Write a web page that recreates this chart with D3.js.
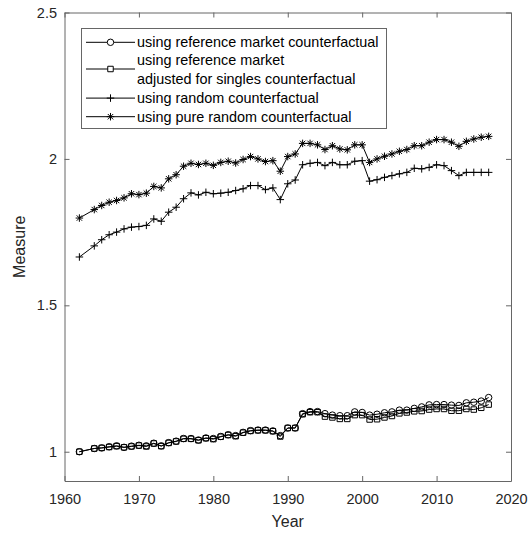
<!DOCTYPE html>
<html>
<head>
<meta charset="utf-8">
<script src="https://cdn.jsdelivr.net/npm/d3@7"></script>
<style>
  html, body { margin: 0; padding: 0; background: #fff; }
  svg { display: block; font-family: "Liberation Sans", Arial, sans-serif; }
</style>
</head>
<body>
<div id="chart"></div>
<script>
// Datos
const years = [1962, 1964, 1965, 1966, 1967, 1968, 1969, 1970, 1971, 1972, 1973, 1974, 1975, 1976, 1977, 1978, 1979, 1980,
  1981, 1982, 1983, 1984, 1985, 1986, 1987, 1988, 1989, 1990, 1991, 1992, 1993, 1994, 1995, 1996, 1997, 1998, 1999, 2000,
  2001, 2002, 2003, 2004, 2005, 2006, 2007, 2008, 2009, 2010, 2011, 2012, 2013, 2014, 2015, 2016, 2017];

const refMarket = [1.000, 1.011, 1.013, 1.017, 1.020, 1.015, 1.019, 1.022, 1.020, 1.029, 1.020, 1.031, 1.036, 1.045, 1.045, 1.040, 1.047, 1.045,
  1.052, 1.058, 1.055, 1.066, 1.072, 1.074, 1.074, 1.071, 1.055, 1.081, 1.081, 1.130, 1.137, 1.137, 1.130, 1.125, 1.123, 1.123, 1.136, 1.134,
  1.125, 1.128, 1.133, 1.136, 1.142, 1.142, 1.148, 1.153, 1.160, 1.161, 1.161, 1.159, 1.158, 1.167, 1.169, 1.173, 1.185];

const refSingles = [1.000, 1.011, 1.013, 1.016, 1.019, 1.015, 1.018, 1.021, 1.018, 1.028, 1.019, 1.030, 1.035, 1.044, 1.044, 1.039, 1.046, 1.043,
  1.051, 1.057, 1.053, 1.065, 1.071, 1.073, 1.073, 1.070, 1.052, 1.081, 1.081, 1.128, 1.135, 1.135, 1.120, 1.117, 1.112, 1.112, 1.125, 1.125,
  1.110, 1.111, 1.117, 1.122, 1.131, 1.134, 1.138, 1.139, 1.144, 1.146, 1.146, 1.140, 1.140, 1.146, 1.144, 1.150, 1.161];

const randomCf = [1.665, 1.703, 1.724, 1.741, 1.750, 1.761, 1.767, 1.769, 1.773, 1.795, 1.787, 1.818, 1.835, 1.864, 1.884, 1.877, 1.886, 1.881,
  1.883, 1.886, 1.892, 1.898, 1.909, 1.909, 1.895, 1.901, 1.861, 1.915, 1.928, 1.980, 1.985, 1.988, 1.977, 1.988, 1.980, 1.980, 1.992, 1.994,
  1.924, 1.929, 1.937, 1.943, 1.949, 1.954, 1.968, 1.966, 1.971, 1.980, 1.977, 1.960, 1.943, 1.954, 1.954, 1.954, 1.954];

const pureRandomCf = [1.798, 1.827, 1.841, 1.852, 1.858, 1.867, 1.881, 1.878, 1.883, 1.906, 1.901, 1.932, 1.946, 1.975, 1.985, 1.981, 1.985, 1.978,
  1.988, 1.992, 1.986, 1.998, 2.008, 2.000, 1.991, 1.994, 1.958, 2.008, 2.017, 2.053, 2.053, 2.048, 2.032, 2.045, 2.034, 2.031, 2.048, 2.048,
  1.988, 2.000, 2.009, 2.017, 2.026, 2.032, 2.045, 2.045, 2.057, 2.066, 2.066, 2.057, 2.043, 2.060, 2.068, 2.074, 2.077];

const xTicks = [1960, 1970, 1980, 1990, 2000, 2010, 2020];
const yTicks = [1, 1.5, 2, 2.5];
const legendLabels = [
  ['using reference market counterfactual'],
  ['using reference market', 'adjusted for singles counterfactual'],
  ['using random counterfactual'],
  ['using pure random counterfactual']
];

// Marcadores estilo MATLAB
const plusSymbol = {
  draw(ctx, size) {
    const r = Math.sqrt(size) / 2;
    ctx.moveTo(-r, 0); ctx.lineTo(r, 0);
    ctx.moveTo(0, -r); ctx.lineTo(0, r);
  }
};
const starSymbol = {
  draw(ctx, size) {
    const r = Math.sqrt(size) / 2;
    const d = r * 0.72;
    ctx.moveTo(-r, 0); ctx.lineTo(r, 0);
    ctx.moveTo(0, -r); ctx.lineTo(0, r);
    ctx.moveTo(-d, -d); ctx.lineTo(d, d);
    ctx.moveTo(-d, d); ctx.lineTo(d, -d);
  }
};
const circleSymbol = {
  draw(ctx, size) {
    const r = Math.sqrt(size) / 2;
    ctx.moveTo(r, 0);
    ctx.arc(0, 0, r, 0, 2 * Math.PI);
  }
};
const squareSymbol = {
  draw(ctx, size) {
    const r = Math.sqrt(size) / 2;
    ctx.rect(-r, -r, 2 * r, 2 * r);
  }
};

const series = [
  { values: refMarket, symbol: circleSymbol, size: 42 },
  { values: refSingles, symbol: squareSymbol, size: 30 },
  { values: randomCf, symbol: plusSymbol, size: 56 },
  { values: pureRandomCf, symbol: starSymbol, size: 56 }
];

const drawChart = () => {
  const width = 530;
  const height = 536;
  const margin = { top: 12.5, right: 19, bottom: 55, left: 64.5 };
  const axisColor = '#666';

  const svg = d3.select('#chart')
    .append('svg')
    .attr('width', width)
    .attr('height', height);

  const x = d3.scaleLinear()
    .domain([1960, 2020])
    .range([margin.left, width - margin.right]);

  const y = d3.scaleLinear()
    .domain([0.9, 2.5])
    .range([height - margin.bottom, margin.top]);

  const plotW = x(2020) - x(1960);
  const plotH = y(0.9) - y(2.5);

  // Ejes (ticks hacia dentro, caja completa)
  const xAxis = d3.axisBottom(x).tickValues(xTicks).tickFormat(d3.format('d')).tickSizeInner(-5).tickSizeOuter(0).tickPadding(13);
  const xAxisTop = d3.axisTop(x).tickValues(xTicks).tickFormat('').tickSizeInner(-5).tickSizeOuter(0);
  const yAxis = d3.axisLeft(y).tickValues(yTicks).tickFormat(d3.format('~g')).tickSizeInner(-5).tickSizeOuter(0).tickPadding(7.5);
  const yAxisRight = d3.axisRight(y).tickValues(yTicks).tickFormat('').tickSizeInner(-5).tickSizeOuter(0);

  const styleAxis = g => {
    g.select('.domain').attr('stroke', axisColor);
    g.selectAll('.tick line').attr('stroke', axisColor);
    g.selectAll('.tick text').attr('fill', '#262626').style('font-size', '14.5px');
    g.attr('font-family', null);
  };

  svg.append('g').attr('transform', `translate(0,${y(0.9)})`).call(xAxis).call(styleAxis);
  svg.append('g').attr('transform', `translate(0,${y(2.5)})`).call(xAxisTop).call(styleAxis);
  svg.append('g').attr('transform', `translate(${x(1960)},0)`).call(yAxis).call(styleAxis);
  svg.append('g').attr('transform', `translate(${x(2020)},0)`).call(yAxisRight).call(styleAxis);

  // Lineas y marcadores
  const line = d3.line()
    .x((d, i) => x(years[i]))
    .y(d => y(d));

  const plot = svg.append('g');
  series.forEach(s => {
    plot.append('path')
      .datum(s.values)
      .attr('d', line)
      .attr('fill', 'none')
      .attr('stroke', '#000')
      .attr('stroke-width', 1);

    plot.selectAll(null)
      .data(s.values)
      .enter()
      .append('path')
      .attr('transform', (d, i) => `translate(${x(years[i])},${y(d)})`)
      .attr('d', d3.symbol().type(s.symbol).size(s.size))
      .attr('fill', 'none')
      .attr('stroke', '#000')
      .attr('stroke-width', 1);
  });

  // Etiquetas de los ejes
  svg.append('text')
    .attr('x', x(1960) + plotW / 2)
    .attr('y', 527)
    .attr('text-anchor', 'middle')
    .attr('fill', '#262626')
    .style('font-size', '16px')
    .text('Year');

  svg.append('text')
    .attr('transform', `translate(25,${y(2.5) + plotH / 2}) rotate(-90)`)
    .attr('text-anchor', 'middle')
    .attr('fill', '#262626')
    .style('font-size', '16px')
    .text('Measure');

  // Leyenda
  const legend = svg.append('g').attr('transform', 'translate(81,28)');
  legend.append('rect')
    .attr('x', 0.5).attr('y', 0.5)
    .attr('width', 305).attr('height', 100)
    .attr('fill', '#fff')
    .attr('stroke', axisColor);

  const rowY = [14.3, 41, 70.1, 88.7];
  const textY = [[19.3], [36.5, 55.5], [75.1], [93.7]];

  series.forEach((s, k) => {
    legend.append('line')
      .attr('x1', 5).attr('x2', 54)
      .attr('y1', rowY[k]).attr('y2', rowY[k])
      .attr('stroke', '#000');
    legend.append('path')
      .attr('transform', `translate(29.5,${rowY[k]})`)
      .attr('d', d3.symbol().type(s.symbol).size(s.size))
      .attr('fill', '#fff')
      .attr('stroke', '#000');
    legendLabels[k].forEach((t, j) => {
      legend.append('text')
        .attr('x', 56)
        .attr('y', textY[k][j])
        .attr('fill', '#000')
        .style('font-size', '14.4px')
        .text(t);
    });
  });
};

document.addEventListener('DOMContentLoaded', drawChart);
</script>
</body>
</html>
